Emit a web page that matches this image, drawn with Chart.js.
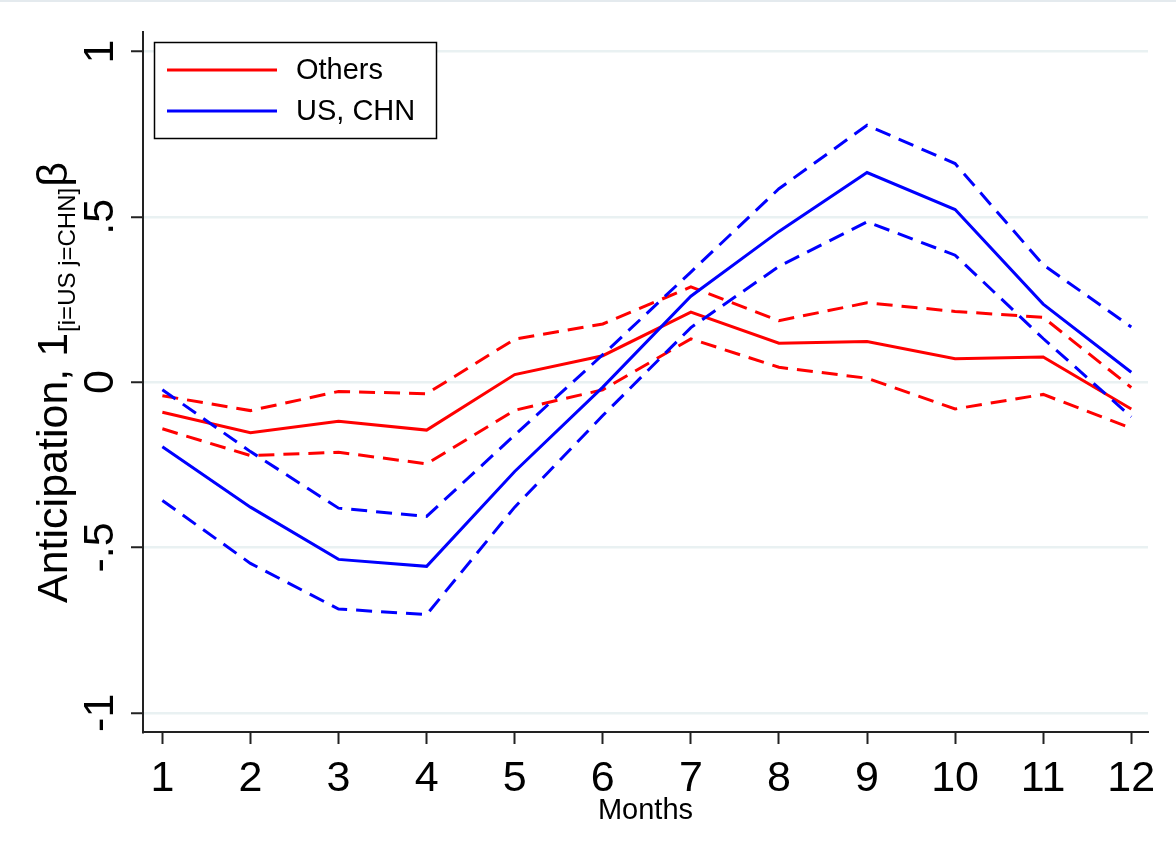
<!DOCTYPE html>
<html>
<head>
<meta charset="utf-8">
<title>Anticipation by month</title>
<script src="https://cdn.jsdelivr.net/npm/chart.js@4.4.1/dist/chart.umd.min.js"></script>
<style>
  html, body { margin: 0; padding: 0; background: #ffffff; }
  canvas { display: block; }
</style>
</head>
<body>
<canvas id="chart" width="1176" height="858"></canvas>
<script>
// Months on the horizontal axis
const months = [1, 2, 3, 4, 5, 6, 7, 8, 9, 10, 11, 12];

// Vertical axis ticks and their labels
const yTickValues = [-1, -0.5, 0, 0.5, 1];
const yTickLabels = ['-1', '-.5', '0', '.5', '1'];

// Others: point estimate and confidence band
const othersEst = [-0.091, -0.153, -0.118, -0.145, 0.023, 0.080, 0.212, 0.118, 0.123, 0.071, 0.076, -0.081];
const othersHi  = [-0.041, -0.086, -0.028, -0.035, 0.130, 0.176, 0.288, 0.186, 0.240, 0.214, 0.196, -0.016];
const othersLo  = [-0.141, -0.222, -0.212, -0.247, -0.085, -0.023, 0.131, 0.045, 0.012, -0.081, -0.037, -0.139];

// US, CHN: point estimate and confidence band
const usEst = [-0.195, -0.378, -0.536, -0.557, -0.270, -0.015, 0.260, 0.456, 0.634, 0.522, 0.236, 0.030];
const usHi  = [-0.023, -0.210, -0.381, -0.406, -0.160, 0.083, 0.333, 0.585, 0.777, 0.661, 0.355, 0.167];
const usLo  = [-0.358, -0.548, -0.686, -0.703, -0.378, -0.101, 0.165, 0.350, 0.485, 0.384, 0.132, -0.105];

const seriesNames = ['Others', 'US, CHN'];
const RED = '#ff0000';
const BLUE = '#0000ff';
const FONT = '"Liberation Sans", Arial, Helvetica, sans-serif';

const toPoints = vals => vals.map((v, i) => ({ x: months[i], y: v }));

function lineSet(label, vals, color, dashed, order) {
  return {
    label: label,
    data: toPoints(vals),
    borderColor: color,
    backgroundColor: color,
    borderWidth: 3,
    borderDash: dashed ? [16, 9] : [],
    pointRadius: 0,
    tension: 0,
    fill: false,
    order: order
  };
}

// Axis labels, rotated tick text and the framed legend
const decorations = {
  id: 'decorations',
  afterDraw(chart) {
    const ctx = chart.ctx;
    const xs = chart.scales.x;
    const ys = chart.scales.y;
    ctx.save();

    // thin frame line along the top edge
    ctx.fillStyle = '#e4eaee';
    ctx.fillRect(0, 0, chart.width, 2);

    ctx.fillStyle = '#000000';

    // month labels
    ctx.font = '43px ' + FONT;
    ctx.textAlign = 'center';
    ctx.textBaseline = 'alphabetic';
    months.forEach(m => {
      ctx.fillText(String(m), xs.getPixelForValue(m), 791);
    });

    // vertical tick labels, written bottom-to-top
    yTickValues.forEach((v, i) => {
      ctx.save();
      ctx.translate(113, ys.getPixelForValue(v));
      ctx.rotate(-Math.PI / 2);
      ctx.textAlign = 'center';
      ctx.fillText(yTickLabels[i], 0, 0);
      ctx.restore();
    });

    // horizontal axis title
    ctx.font = '29px ' + FONT;
    ctx.textAlign = 'center';
    ctx.fillText('Months', (chart.chartArea.left + chart.chartArea.right) / 2, 819);

    // vertical axis title with subscript
    ctx.save();
    ctx.translate(67, 603);
    ctx.rotate(-Math.PI / 2);
    ctx.textAlign = 'left';
    ctx.font = '43px ' + FONT;
    const mainText = 'Anticipation, 1';
    ctx.fillText(mainText, 0, 0);
    const w1 = ctx.measureText(mainText).width;
    ctx.font = '24px ' + FONT;
    const subText = '[i=US j=CHN]';
    ctx.fillText(subText, w1 + 1, 8);
    const w2 = ctx.measureText(subText).width;
    ctx.font = '43px ' + FONT;
    ctx.fillText('\u03B2', w1 + w2 + 2, 0);
    ctx.restore();

    // legend box
    const lx = 154.5, ly = 42.5, lw = 282, lh = 96;
    ctx.fillStyle = '#ffffff';
    ctx.fillRect(lx, ly, lw, lh);
    ctx.strokeStyle = '#000000';
    ctx.lineWidth = 1.5;
    ctx.strokeRect(lx, ly, lw, lh);

    const rows = [
      { name: seriesNames[0], color: RED, y: 70 },
      { name: seriesNames[1], color: BLUE, y: 111 }
    ];
    rows.forEach(r => {
      ctx.strokeStyle = r.color;
      ctx.lineWidth = 3;
      ctx.setLineDash([]);
      ctx.beginPath();
      ctx.moveTo(167, r.y);
      ctx.lineTo(277, r.y);
      ctx.stroke();
      ctx.fillStyle = '#000000';
      ctx.font = '29px ' + FONT;
      ctx.textAlign = 'left';
      ctx.textBaseline = 'middle';
      ctx.fillText(r.name, 296, r.y + 1);
    });

    ctx.restore();
  }
};

new Chart(document.getElementById('chart'), {
  type: 'line',
  data: {
    datasets: [
      lineSet(seriesNames[0], othersEst, RED, false, 2),
      lineSet(seriesNames[0] + ' upper', othersHi, RED, true, 2),
      lineSet(seriesNames[0] + ' lower', othersLo, RED, true, 2),
      lineSet(seriesNames[1], usEst, BLUE, false, 1),
      lineSet(seriesNames[1] + ' upper', usHi, BLUE, true, 1),
      lineSet(seriesNames[1] + ' lower', usLo, BLUE, true, 1)
    ]
  },
  options: {
    responsive: false,
    animation: false,
    devicePixelRatio: 1,
    layout: { padding: { top: 32, right: 28, left: 0, bottom: 0 } },
    plugins: {
      legend: { display: false },
      tooltip: { enabled: false },
      title: { display: false }
    },
    scales: {
      x: {
        type: 'linear',
        min: 0.78,
        max: 12.19,
        afterBuildTicks: s => { s.ticks = months.map(v => ({ value: v })); },
        afterFit: s => { s.height = 126; s.paddingLeft = 0; s.paddingRight = 0; },
        ticks: { display: false },
        grid: {
          drawOnChartArea: false,
          drawTicks: true,
          tickLength: 12,
          tickColor: '#222222',
          tickWidth: 2
        },
        border: { display: true, color: '#222222', width: 2 }
      },
      y: {
        type: 'linear',
        min: -1.058,
        max: 1.059,
        afterBuildTicks: s => { s.ticks = yTickValues.map(v => ({ value: v })); },
        afterFit: s => { s.width = 143; },
        ticks: { display: false },
        grid: {
          color: '#e9f1f2',
          lineWidth: 2.5,
          drawTicks: true,
          tickLength: 12,
          tickColor: '#222222',
          tickWidth: 2
        },
        border: { display: true, color: '#222222', width: 2 }
      }
    }
  },
  plugins: [decorations]
});
</script>
</body>
</html>
